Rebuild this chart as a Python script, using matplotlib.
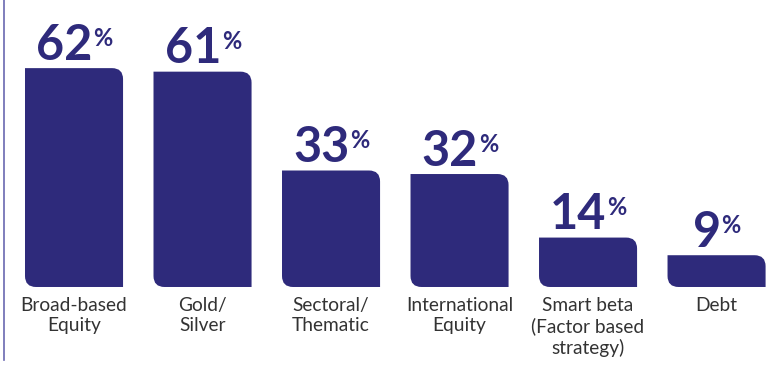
import matplotlib
matplotlib.use("Agg")
import matplotlib.pyplot as plt
from matplotlib.path import Path
from matplotlib.patches import PathPatch
from matplotlib.lines import Line2D

categories = ["Broad-based\nEquity", "Gold/\nSilver", "Sectoral/\nThematic",
              "International\nEquity", "Smart beta\n(Factor based\nstrategy)", "Debt"]
values = [62, 61, 33, 32, 14, 9]

bar_color = "#2e2a7b"
text_color = "#333333"
plt.rcParams['font.family'] = ['Lato', 'DejaVu Sans']

fig = plt.figure(figsize=(7.74, 3.65), dpi=100)
ax = fig.add_axes([0, 0, 1, 1])
ax.set_xlim(-0.576, 5.447)
ax.set_ylim(-22.1, 81.3)
ax.axis('off')

width = 0.763
# corner radius in pixels converted to data units
px_x = 6.023 / 774
px_y = 103.4 / 365
rx = 11 * px_x
ry = 11 * px_y


def rounded_bar(x0, x1, y0, y1):
    # top-right and bottom-left rounded
    verts = [
        (x0, y1),
        (x1 - rx, y1),
        (x1, y1), (x1, y1 - ry),
        (x1, y0),
        (x0 + rx, y0),
        (x0, y0), (x0, y0 + ry),
        (x0, y1),
    ]
    codes = [Path.MOVETO, Path.LINETO, Path.CURVE3, Path.CURVE3,
             Path.LINETO, Path.LINETO, Path.CURVE3, Path.CURVE3, Path.CLOSEPOLY]
    return PathPatch(Path(verts, codes), facecolor=bar_color, edgecolor='none')


for i, (cat, v) in enumerate(zip(categories, values)):
    ax.add_patch(rounded_bar(i - width / 2, i + width / 2, 0, v))
    num = ax.annotate(str(v), xy=(i, v), xytext=(-7, 6), textcoords='offset points',
                      ha='center', va='baseline', fontsize=35, fontweight='bold',
                      color=bar_color)
    ax.annotate('%', xy=(1, 1), xycoords=num, xytext=(0.5, -3), textcoords='offset points',
                ha='left', va='top', fontsize=17, fontweight='bold', color=bar_color)
    ax.annotate(cat, xy=(i, 0), xytext=(0, -7), textcoords='offset points',
                ha='center', va='top', fontsize=13.8, color=text_color,
                linespacing=1.25)

fig.add_artist(Line2D([4 / 774, 4 / 774], [5 / 365, 1], transform=fig.transFigure,
                      color='#6a68b0', linewidth=1.2))

fig.savefig('out.png', dpi=100)
